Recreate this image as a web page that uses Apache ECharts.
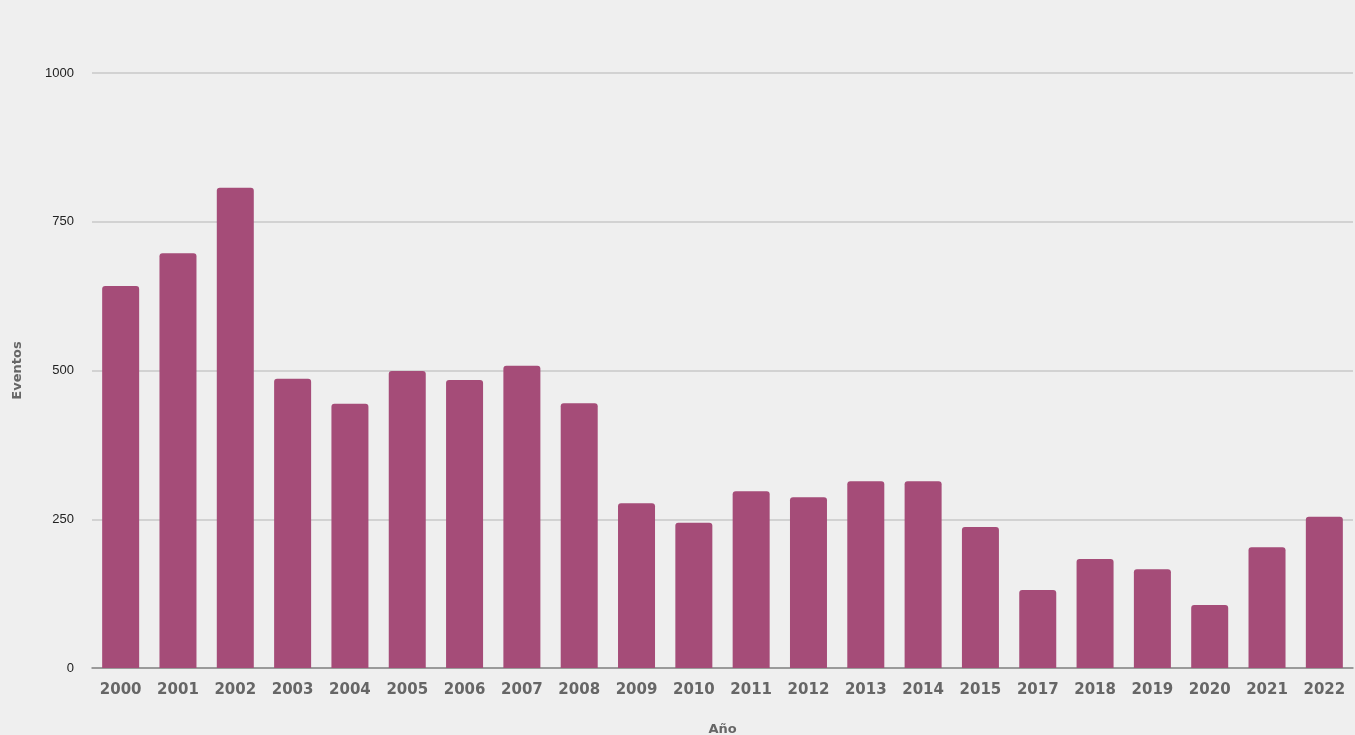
<!DOCTYPE html>
<html>
<head>
<meta charset="utf-8">
<script src="https://cdn.jsdelivr.net/npm/echarts@6/dist/echarts.min.js"></script>
<style>
  html, body { margin: 0; padding: 0; background: #efefef; }
  #draw { width: 1355px; height: 735px; }
</style>
</head>
<body>
<div id="draw"></div>
<script>
// datos del gráfico
var years = ['2000', '2001', '2002', '2003', '2004', '2005', '2006', '2007', '2008', '2009', '2010',
	'2011', '2012', '2013', '2014', '2015', '2017', '2018', '2019', '2020', '2021', '2022'];
var eventos = [642, 697, 807, 486, 444, 499, 484, 508, 445, 277, 244,
	297, 287, 314, 314, 237, 131, 183, 166, 106, 203, 254];
var yTicks = [0, 250, 500, 750, 1000];

var myChart = echarts.init(document.getElementById('draw'));
var option = {
	backgroundColor : '#efefef',
	animation : false,
	grid : {
		left : 92,
		right : 2,
		top : 73,
		bottom : 67,
		containLabel : false,
		outerBoundsMode : 'none'
	},
	xAxis : {
		type : 'category',
		data : years,
		name : 'Año',
		nameLocation : 'middle',
		nameGap : 55,
		nameTextStyle : {
			fontFamily : 'DejaVu Sans',
			fontWeight : 'bold',
			fontSize : 13,
			color : '#666'
		},
		axisTick : { show : false },
		axisLine : { lineStyle : { color : '#888', width : 1.5 } },
		axisLabel : {
			interval : 0,
			margin : 15,
			fontFamily : 'DejaVu Sans',
			fontWeight : 'bold',
			fontSize : 15,
			color : '#666'
		}
	},
	yAxis : {
		type : 'value',
		min : yTicks[0],
		max : yTicks[yTicks.length - 1],
		interval : 250,
		name : 'Eventos',
		nameLocation : 'middle',
		nameGap : 68,
		nameTextStyle : {
			fontFamily : 'DejaVu Sans',
			fontWeight : 'bold',
			fontSize : 13,
			color : '#666'
		},
		axisLabel : {
			margin : 18,
			fontFamily : 'Liberation Sans',
			fontSize : 13,
			color : '#222',
			formatter : function(v) {
				return String(v);
			}
		},
		splitLine : { lineStyle : { color : '#c8c8c8', width : 1.5 } }
	},
	series : [ {
		name : 'Eventos',
		type : 'bar',
		data : eventos,
		barWidth : 37,
		itemStyle : {
			color : '#a54c78',
			borderRadius : [3, 3, 0, 0]
		}
	} ]
};
myChart.setOption(option);
</script>
</body>
</html>
